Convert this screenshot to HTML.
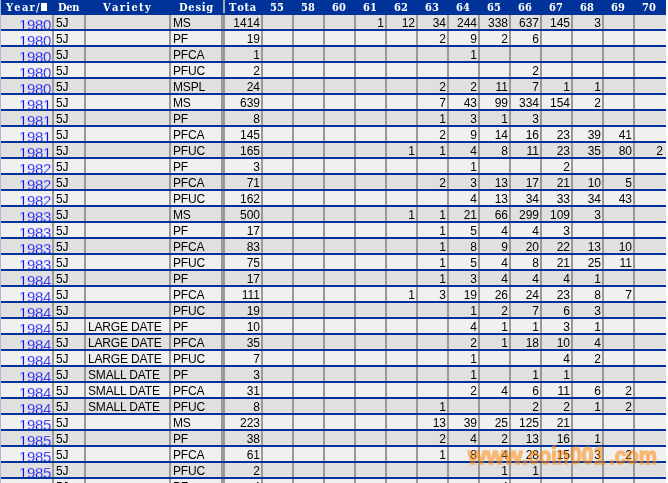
<!DOCTYPE html>
<html><head><meta charset="utf-8"><title>Population Report</title>
<style>
html,body{margin:0;padding:0;background:#fff;}
body{width:668px;height:483px;overflow:hidden;position:relative;font-family:"Liberation Sans",sans-serif;font-size:12px;color:#000;}
#g{position:absolute;left:0;top:0;width:668px;height:483px;overflow:hidden;}
#edge{position:absolute;left:0;top:0;width:1px;height:483px;background:#a9b9d3;}
#hd{position:absolute;left:1px;top:0;width:665px;height:15px;background:#003399;}
#hd .hsep{position:absolute;left:222px;top:0;width:2px;height:13px;background:#aaaaa6;}
.h{position:absolute;top:0;height:15px;line-height:15px;color:#fff;font-weight:bold;white-space:nowrap;font-family:"DejaVu Serif",serif;font-size:11px;font-kerning:none;transform:scaleX(.9);transform-origin:0 50%;}
.q{position:absolute;left:40px;top:3px;width:6px;height:8px;background:#fff;color:#fff;overflow:hidden;font-size:8px;line-height:8px;}
.r{position:absolute;left:1px;width:665px;height:14px;overflow:hidden;border-bottom:2px solid #003399;}
.r.a{background:#e0e0e0;}
.r.b{background:#f0f0f0;}
.c{position:absolute;top:1px;height:14px;line-height:14px;white-space:nowrap;letter-spacing:-0.16px;}
.n{letter-spacing:0;}
.n{text-align:right;}
.y{position:absolute;top:2px;line-height:16px;font-size:15px;letter-spacing:-0.34px;color:#0000ff;text-align:right;left:0;width:50px;text-decoration:underline;}
.a .y{-webkit-text-stroke:.25px #e0e0e0;}
.b .y{-webkit-text-stroke:.25px #f0f0f0;}
.s{position:absolute;top:15px;width:2px;height:468px;background:#999;}
.bl{position:absolute;left:1px;width:665px;height:2px;background:#003399;}
#wm{position:absolute;left:0;top:0;width:668px;height:483px;opacity:.55;color:#ff8a10;font-weight:bold;pointer-events:none;}
#wm span{position:absolute;white-space:nowrap;transform-origin:0 100%;line-height:1;font-size:24.6px;top:444px;-webkit-text-stroke:1.5px #ff8a10;}
#wm .w1{left:468px;transform:scaleX(.95);}
#wm .w2{left:528px;transform:scaleX(.81);}
#wm .w3{left:570px;transform:scaleX(.86);}
#wm .w4{left:609px;transform:scaleX(.835);}
</style></head>
<body>
<div id="g">
<div id="edge"></div>
<div id="hd"><div class="h" style="left:4.9px;letter-spacing:1.42px">Year/</div><div class="q">■</div><div class="h" style="left:57.1px;letter-spacing:-0.41px">Den</div><div class="h" style="left:102.0px;letter-spacing:1.48px">Variety</div><div class="h" style="left:177.7px;letter-spacing:0.86px">Desig</div><div class="h" style="left:227.7px;letter-spacing:0.85px">Tota</div><div class="h" style="left:269.4px;letter-spacing:0.12px">55</div><div class="h" style="left:300.4px;letter-spacing:0.12px">58</div><div class="h" style="left:331.4px;letter-spacing:0.12px">60</div><div class="h" style="left:362.4px;letter-spacing:0.12px">61</div><div class="h" style="left:393.4px;letter-spacing:0.12px">62</div><div class="h" style="left:424.4px;letter-spacing:0.12px">63</div><div class="h" style="left:455.4px;letter-spacing:0.12px">64</div><div class="h" style="left:486.4px;letter-spacing:0.12px">65</div><div class="h" style="left:517.4px;letter-spacing:0.12px">66</div><div class="h" style="left:548.4px;letter-spacing:0.12px">67</div><div class="h" style="left:579.4px;letter-spacing:0.12px">68</div><div class="h" style="left:610.4px;letter-spacing:0.12px">69</div><div class="h" style="left:641.4px;letter-spacing:0.12px">70</div><div class="hsep"></div></div>
<div class="r a" style="top:15px"><a class="y">1980</a><span class="c" style="left:55px">5J</span><span class="c" style="left:172px">MS</span><span class="c n" style="left:224px;width:35px">1414</span><span class="c n" style="left:355px;width:28px">1</span><span class="c n" style="left:386px;width:28px">12</span><span class="c n" style="left:417px;width:28px">34</span><span class="c n" style="left:448px;width:28px">244</span><span class="c n" style="left:479px;width:28px">338</span><span class="c n" style="left:510px;width:28px">637</span><span class="c n" style="left:541px;width:28px">145</span><span class="c n" style="left:572px;width:28px">3</span></div>
<div class="r b" style="top:31px"><a class="y">1980</a><span class="c" style="left:55px">5J</span><span class="c" style="left:172px">PF</span><span class="c n" style="left:224px;width:35px">19</span><span class="c n" style="left:417px;width:28px">2</span><span class="c n" style="left:448px;width:28px">9</span><span class="c n" style="left:479px;width:28px">2</span><span class="c n" style="left:510px;width:28px">6</span></div>
<div class="r a" style="top:47px"><a class="y">1980</a><span class="c" style="left:55px">5J</span><span class="c" style="left:172px">PFCA</span><span class="c n" style="left:224px;width:35px">1</span><span class="c n" style="left:448px;width:28px">1</span></div>
<div class="r b" style="top:63px"><a class="y">1980</a><span class="c" style="left:55px">5J</span><span class="c" style="left:172px">PFUC</span><span class="c n" style="left:224px;width:35px">2</span><span class="c n" style="left:510px;width:28px">2</span></div>
<div class="r a" style="top:79px"><a class="y">1980</a><span class="c" style="left:55px">5J</span><span class="c" style="left:172px">MSPL</span><span class="c n" style="left:224px;width:35px">24</span><span class="c n" style="left:417px;width:28px">2</span><span class="c n" style="left:448px;width:28px">2</span><span class="c n" style="left:479px;width:28px">11</span><span class="c n" style="left:510px;width:28px">7</span><span class="c n" style="left:541px;width:28px">1</span><span class="c n" style="left:572px;width:28px">1</span></div>
<div class="r b" style="top:95px"><a class="y">1981</a><span class="c" style="left:55px">5J</span><span class="c" style="left:172px">MS</span><span class="c n" style="left:224px;width:35px">639</span><span class="c n" style="left:417px;width:28px">7</span><span class="c n" style="left:448px;width:28px">43</span><span class="c n" style="left:479px;width:28px">99</span><span class="c n" style="left:510px;width:28px">334</span><span class="c n" style="left:541px;width:28px">154</span><span class="c n" style="left:572px;width:28px">2</span></div>
<div class="r a" style="top:111px"><a class="y">1981</a><span class="c" style="left:55px">5J</span><span class="c" style="left:172px">PF</span><span class="c n" style="left:224px;width:35px">8</span><span class="c n" style="left:417px;width:28px">1</span><span class="c n" style="left:448px;width:28px">3</span><span class="c n" style="left:479px;width:28px">1</span><span class="c n" style="left:510px;width:28px">3</span></div>
<div class="r b" style="top:127px"><a class="y">1981</a><span class="c" style="left:55px">5J</span><span class="c" style="left:172px">PFCA</span><span class="c n" style="left:224px;width:35px">145</span><span class="c n" style="left:417px;width:28px">2</span><span class="c n" style="left:448px;width:28px">9</span><span class="c n" style="left:479px;width:28px">14</span><span class="c n" style="left:510px;width:28px">16</span><span class="c n" style="left:541px;width:28px">23</span><span class="c n" style="left:572px;width:28px">39</span><span class="c n" style="left:603px;width:28px">41</span></div>
<div class="r a" style="top:143px"><a class="y">1981</a><span class="c" style="left:55px">5J</span><span class="c" style="left:172px">PFUC</span><span class="c n" style="left:224px;width:35px">165</span><span class="c n" style="left:386px;width:28px">1</span><span class="c n" style="left:417px;width:28px">1</span><span class="c n" style="left:448px;width:28px">4</span><span class="c n" style="left:479px;width:28px">8</span><span class="c n" style="left:510px;width:28px">11</span><span class="c n" style="left:541px;width:28px">23</span><span class="c n" style="left:572px;width:28px">35</span><span class="c n" style="left:603px;width:28px">80</span><span class="c n" style="left:634px;width:28px">2</span></div>
<div class="r b" style="top:159px"><a class="y">1982</a><span class="c" style="left:55px">5J</span><span class="c" style="left:172px">PF</span><span class="c n" style="left:224px;width:35px">3</span><span class="c n" style="left:448px;width:28px">1</span><span class="c n" style="left:541px;width:28px">2</span></div>
<div class="r a" style="top:175px"><a class="y">1982</a><span class="c" style="left:55px">5J</span><span class="c" style="left:172px">PFCA</span><span class="c n" style="left:224px;width:35px">71</span><span class="c n" style="left:417px;width:28px">2</span><span class="c n" style="left:448px;width:28px">3</span><span class="c n" style="left:479px;width:28px">13</span><span class="c n" style="left:510px;width:28px">17</span><span class="c n" style="left:541px;width:28px">21</span><span class="c n" style="left:572px;width:28px">10</span><span class="c n" style="left:603px;width:28px">5</span></div>
<div class="r b" style="top:191px"><a class="y">1982</a><span class="c" style="left:55px">5J</span><span class="c" style="left:172px">PFUC</span><span class="c n" style="left:224px;width:35px">162</span><span class="c n" style="left:448px;width:28px">4</span><span class="c n" style="left:479px;width:28px">13</span><span class="c n" style="left:510px;width:28px">34</span><span class="c n" style="left:541px;width:28px">33</span><span class="c n" style="left:572px;width:28px">34</span><span class="c n" style="left:603px;width:28px">43</span></div>
<div class="r a" style="top:207px"><a class="y">1983</a><span class="c" style="left:55px">5J</span><span class="c" style="left:172px">MS</span><span class="c n" style="left:224px;width:35px">500</span><span class="c n" style="left:386px;width:28px">1</span><span class="c n" style="left:417px;width:28px">1</span><span class="c n" style="left:448px;width:28px">21</span><span class="c n" style="left:479px;width:28px">66</span><span class="c n" style="left:510px;width:28px">299</span><span class="c n" style="left:541px;width:28px">109</span><span class="c n" style="left:572px;width:28px">3</span></div>
<div class="r b" style="top:223px"><a class="y">1983</a><span class="c" style="left:55px">5J</span><span class="c" style="left:172px">PF</span><span class="c n" style="left:224px;width:35px">17</span><span class="c n" style="left:417px;width:28px">1</span><span class="c n" style="left:448px;width:28px">5</span><span class="c n" style="left:479px;width:28px">4</span><span class="c n" style="left:510px;width:28px">4</span><span class="c n" style="left:541px;width:28px">3</span></div>
<div class="r a" style="top:239px"><a class="y">1983</a><span class="c" style="left:55px">5J</span><span class="c" style="left:172px">PFCA</span><span class="c n" style="left:224px;width:35px">83</span><span class="c n" style="left:417px;width:28px">1</span><span class="c n" style="left:448px;width:28px">8</span><span class="c n" style="left:479px;width:28px">9</span><span class="c n" style="left:510px;width:28px">20</span><span class="c n" style="left:541px;width:28px">22</span><span class="c n" style="left:572px;width:28px">13</span><span class="c n" style="left:603px;width:28px">10</span></div>
<div class="r b" style="top:255px"><a class="y">1983</a><span class="c" style="left:55px">5J</span><span class="c" style="left:172px">PFUC</span><span class="c n" style="left:224px;width:35px">75</span><span class="c n" style="left:417px;width:28px">1</span><span class="c n" style="left:448px;width:28px">5</span><span class="c n" style="left:479px;width:28px">4</span><span class="c n" style="left:510px;width:28px">8</span><span class="c n" style="left:541px;width:28px">21</span><span class="c n" style="left:572px;width:28px">25</span><span class="c n" style="left:603px;width:28px">11</span></div>
<div class="r a" style="top:271px"><a class="y">1984</a><span class="c" style="left:55px">5J</span><span class="c" style="left:172px">PF</span><span class="c n" style="left:224px;width:35px">17</span><span class="c n" style="left:417px;width:28px">1</span><span class="c n" style="left:448px;width:28px">3</span><span class="c n" style="left:479px;width:28px">4</span><span class="c n" style="left:510px;width:28px">4</span><span class="c n" style="left:541px;width:28px">4</span><span class="c n" style="left:572px;width:28px">1</span></div>
<div class="r b" style="top:287px"><a class="y">1984</a><span class="c" style="left:55px">5J</span><span class="c" style="left:172px">PFCA</span><span class="c n" style="left:224px;width:35px">111</span><span class="c n" style="left:386px;width:28px">1</span><span class="c n" style="left:417px;width:28px">3</span><span class="c n" style="left:448px;width:28px">19</span><span class="c n" style="left:479px;width:28px">26</span><span class="c n" style="left:510px;width:28px">24</span><span class="c n" style="left:541px;width:28px">23</span><span class="c n" style="left:572px;width:28px">8</span><span class="c n" style="left:603px;width:28px">7</span></div>
<div class="r a" style="top:303px"><a class="y">1984</a><span class="c" style="left:55px">5J</span><span class="c" style="left:172px">PFUC</span><span class="c n" style="left:224px;width:35px">19</span><span class="c n" style="left:448px;width:28px">1</span><span class="c n" style="left:479px;width:28px">2</span><span class="c n" style="left:510px;width:28px">7</span><span class="c n" style="left:541px;width:28px">6</span><span class="c n" style="left:572px;width:28px">3</span></div>
<div class="r b" style="top:319px"><a class="y">1984</a><span class="c" style="left:55px">5J</span><span class="c" style="left:87px">LARGE DATE</span><span class="c" style="left:172px">PF</span><span class="c n" style="left:224px;width:35px">10</span><span class="c n" style="left:448px;width:28px">4</span><span class="c n" style="left:479px;width:28px">1</span><span class="c n" style="left:510px;width:28px">1</span><span class="c n" style="left:541px;width:28px">3</span><span class="c n" style="left:572px;width:28px">1</span></div>
<div class="r a" style="top:335px"><a class="y">1984</a><span class="c" style="left:55px">5J</span><span class="c" style="left:87px">LARGE DATE</span><span class="c" style="left:172px">PFCA</span><span class="c n" style="left:224px;width:35px">35</span><span class="c n" style="left:448px;width:28px">2</span><span class="c n" style="left:479px;width:28px">1</span><span class="c n" style="left:510px;width:28px">18</span><span class="c n" style="left:541px;width:28px">10</span><span class="c n" style="left:572px;width:28px">4</span></div>
<div class="r b" style="top:351px"><a class="y">1984</a><span class="c" style="left:55px">5J</span><span class="c" style="left:87px">LARGE DATE</span><span class="c" style="left:172px">PFUC</span><span class="c n" style="left:224px;width:35px">7</span><span class="c n" style="left:448px;width:28px">1</span><span class="c n" style="left:541px;width:28px">4</span><span class="c n" style="left:572px;width:28px">2</span></div>
<div class="r a" style="top:367px"><a class="y">1984</a><span class="c" style="left:55px">5J</span><span class="c" style="left:87px">SMALL DATE</span><span class="c" style="left:172px">PF</span><span class="c n" style="left:224px;width:35px">3</span><span class="c n" style="left:448px;width:28px">1</span><span class="c n" style="left:510px;width:28px">1</span><span class="c n" style="left:541px;width:28px">1</span></div>
<div class="r b" style="top:383px"><a class="y">1984</a><span class="c" style="left:55px">5J</span><span class="c" style="left:87px">SMALL DATE</span><span class="c" style="left:172px">PFCA</span><span class="c n" style="left:224px;width:35px">31</span><span class="c n" style="left:448px;width:28px">2</span><span class="c n" style="left:479px;width:28px">4</span><span class="c n" style="left:510px;width:28px">6</span><span class="c n" style="left:541px;width:28px">11</span><span class="c n" style="left:572px;width:28px">6</span><span class="c n" style="left:603px;width:28px">2</span></div>
<div class="r a" style="top:399px"><a class="y">1984</a><span class="c" style="left:55px">5J</span><span class="c" style="left:87px">SMALL DATE</span><span class="c" style="left:172px">PFUC</span><span class="c n" style="left:224px;width:35px">8</span><span class="c n" style="left:417px;width:28px">1</span><span class="c n" style="left:510px;width:28px">2</span><span class="c n" style="left:541px;width:28px">2</span><span class="c n" style="left:572px;width:28px">1</span><span class="c n" style="left:603px;width:28px">2</span></div>
<div class="r b" style="top:415px"><a class="y">1985</a><span class="c" style="left:55px">5J</span><span class="c" style="left:172px">MS</span><span class="c n" style="left:224px;width:35px">223</span><span class="c n" style="left:417px;width:28px">13</span><span class="c n" style="left:448px;width:28px">39</span><span class="c n" style="left:479px;width:28px">25</span><span class="c n" style="left:510px;width:28px">125</span><span class="c n" style="left:541px;width:28px">21</span></div>
<div class="r a" style="top:431px"><a class="y">1985</a><span class="c" style="left:55px">5J</span><span class="c" style="left:172px">PF</span><span class="c n" style="left:224px;width:35px">38</span><span class="c n" style="left:417px;width:28px">2</span><span class="c n" style="left:448px;width:28px">4</span><span class="c n" style="left:479px;width:28px">2</span><span class="c n" style="left:510px;width:28px">13</span><span class="c n" style="left:541px;width:28px">16</span><span class="c n" style="left:572px;width:28px">1</span></div>
<div class="r b" style="top:447px"><a class="y">1985</a><span class="c" style="left:55px">5J</span><span class="c" style="left:172px">PFCA</span><span class="c n" style="left:224px;width:35px">61</span><span class="c n" style="left:417px;width:28px">1</span><span class="c n" style="left:448px;width:28px">8</span><span class="c n" style="left:479px;width:28px">4</span><span class="c n" style="left:510px;width:28px">28</span><span class="c n" style="left:541px;width:28px">15</span><span class="c n" style="left:572px;width:28px">3</span><span class="c n" style="left:603px;width:28px">2</span></div>
<div class="r a" style="top:463px"><a class="y">1985</a><span class="c" style="left:55px">5J</span><span class="c" style="left:172px">PFUC</span><span class="c n" style="left:224px;width:35px">2</span><span class="c n" style="left:479px;width:28px">1</span><span class="c n" style="left:510px;width:28px">1</span></div>
<div class="r b" style="top:479px"><a class="y">1985</a><span class="c" style="left:55px">5J</span><span class="c" style="left:172px">PF</span><span class="c n" style="left:224px;width:35px">4</span><span class="c n" style="left:479px;width:28px">4</span></div>
<div class="s" style="left:52px"></div><div class="s" style="left:84px"></div><div class="s" style="left:169px"></div><div class="s" style="left:261px"></div><div class="s" style="left:292px"></div><div class="s" style="left:323px"></div><div class="s" style="left:354px"></div><div class="s" style="left:385px"></div><div class="s" style="left:416px"></div><div class="s" style="left:447px"></div><div class="s" style="left:478px"></div><div class="s" style="left:509px"></div><div class="s" style="left:540px"></div><div class="s" style="left:571px"></div><div class="s" style="left:602px"></div><div class="s" style="left:633px"></div><div class="s" style="left:221px;width:4px"></div>
<div class="bl" style="top:29px"></div><div class="bl" style="top:45px"></div><div class="bl" style="top:61px"></div><div class="bl" style="top:77px"></div><div class="bl" style="top:93px"></div><div class="bl" style="top:109px"></div><div class="bl" style="top:125px"></div><div class="bl" style="top:141px"></div><div class="bl" style="top:157px"></div><div class="bl" style="top:173px"></div><div class="bl" style="top:189px"></div><div class="bl" style="top:205px"></div><div class="bl" style="top:221px"></div><div class="bl" style="top:237px"></div><div class="bl" style="top:253px"></div><div class="bl" style="top:269px"></div><div class="bl" style="top:285px"></div><div class="bl" style="top:301px"></div><div class="bl" style="top:317px"></div><div class="bl" style="top:333px"></div><div class="bl" style="top:349px"></div><div class="bl" style="top:365px"></div><div class="bl" style="top:381px"></div><div class="bl" style="top:397px"></div><div class="bl" style="top:413px"></div><div class="bl" style="top:429px"></div><div class="bl" style="top:445px"></div><div class="bl" style="top:461px"></div><div class="bl" style="top:477px"></div><div class="bl" style="top:493px"></div>
<div id="wm"><span class="w1">www.</span><span class="w2">coin</span><span class="w3">001</span><span class="w4">.com</span></div>
</div>
</body></html>
